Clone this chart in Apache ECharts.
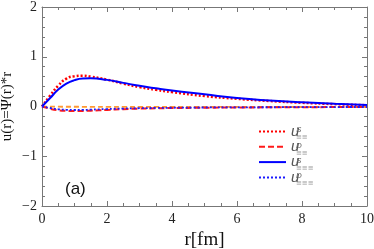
<!DOCTYPE html>
<html><head><meta charset="utf-8">
<script src="https://cdn.jsdelivr.net/npm/echarts@6/dist/echarts.min.js"></script>
<style>html,body{margin:0;padding:0;background:#fff}#c{width:374px;height:249px}</style>
</head><body><div id="c"></div>
<script>
var r      = [0, 0.25, 0.5, 0.75, 1, 1.25, 1.5, 2, 2.5, 3, 3.5, 4, 5, 6, 7, 8, 9, 10];
var uS1    = [0, 0.22, 0.42, 0.56, 0.61, 0.62, 0.60, 0.54, 0.46, 0.39, 0.335, 0.29, 0.21, 0.155, 0.11, 0.075, 0.048, 0.025];
var uD1    = [0, -0.045, -0.075, -0.088, -0.092, -0.09, -0.083, -0.068, -0.053, -0.043, -0.036, -0.031, -0.025, -0.02, -0.017, -0.014, -0.012, -0.01];
var uS2    = [0, 0.17, 0.34, 0.46, 0.53, 0.563, 0.567, 0.535, 0.475, 0.415, 0.365, 0.32, 0.245, 0.17, 0.12, 0.083, 0.055, 0.03];
var uD2    = [0, -0.03, -0.055, -0.066, -0.07, -0.069, -0.063, -0.051, -0.041, -0.034, -0.029, -0.025, -0.02, -0.017, -0.015, -0.013, -0.011, -0.01];
var uRef   = [0, -0.003, -0.004, -0.005, -0.005, -0.006, -0.006, -0.007, -0.007, -0.008, -0.008, -0.008, -0.009, -0.009, -0.01, -0.01, -0.01, -0.01];
var names  = ['uS1', 'uD1', 'uS2', 'uD2'];
var supers = ['S', 'D', 'S', 'D'];
var subs   = ['≡≡', '≡≡', '≡≡≡', '≡≡≡'];
var xTicks = [0, 2, 4, 6, 8, 10];
var yTicks = [-2, -1, 0, 1, 2];

function pairs(v){ return r.map(function(x,i){ return [x, v[i]]; }); }

var chart = echarts.init(document.getElementById('c'));
var axisCol = '#777';
var serif = '"Liberation Serif","DejaVu Serif",serif';
function xa(show, pos){
  return {type:'value', min:0, max:10, interval:2, position:pos,
    axisLine:{show:true, onZero:false, lineStyle:{color:axisCol, width:1}},
    axisTick:{show:true, inside:true, length:5, lineStyle:{color:axisCol, width:1}},
    minorTick:{show:true, splitNumber:4, length:3, lineStyle:{color:axisCol, width:1}},
    splitLine:{show:false},
    axisLabel:{show:show, color:'#222', fontFamily:serif, fontSize:14, margin:6,
      formatter:function(v){ return xTicks.indexOf(v)>=0 ? String(v) : ''; }},
    name: show ? 'r[fm]' : '', nameLocation:'middle', nameGap:19,
    nameTextStyle:{fontFamily:serif, fontSize:19, color:'#111'}};
}
function ya(show, pos){
  return {type:'value', min:-2, max:2, interval:1, position:pos,
    axisLine:{show:true, onZero:false, lineStyle:{color:axisCol, width:1}},
    axisTick:{show:true, inside:true, length:5, lineStyle:{color:axisCol, width:1}},
    minorTick:{show:true, splitNumber:5, length:3, lineStyle:{color:axisCol, width:1}},
    splitLine:{show:false},
    axisLabel:{show:show, color:'#222', fontFamily:serif, fontSize:14, margin:5,
      formatter:function(v){ return yTicks.indexOf(v)>=0 ? (v<0 ? '\u2212'+(-v) : String(v)) : ''; }},
    name: show ? 'u(r)=\u03A8(r)*r' : '', nameLocation:'middle', nameGap:27, nameMoveOverlap:false,
    nameTextStyle:{fontFamily:serif, fontSize:15, color:'#111'}};
}

var graphics = [{type:'text', left:65, top:181, style:{text:'(a)', font:'17px "Liberation Sans",Arial,sans-serif', fill:'#111'}}];
var rowY = [132, 148, 163, 178];
for (var i=0;i<4;i++){
  graphics.push({type:'text', left:296, top:rowY[i]-6, style:{text:supers[i], font:'italic 8px "Liberation Sans",sans-serif', fill:'#666'}});
  graphics.push({type:'text', left:296, top:rowY[i]+2, style:{text:subs[i], font:'7px "DejaVu Sans",sans-serif', fill:'#999'}});
}

chart.setOption({
  animation:false,
  grid:{left:42, right:7, top:7, bottom:43, containLabel:false, outerBoundsMode:'none'},
  xAxis:[xa(true,'bottom'), xa(false,'top')],
  yAxis:[ya(true,'left'), ya(false,'right')],
  legend:{orient:'vertical', left:258, top:124, padding:0, itemWidth:27, itemHeight:10, itemGap:0.3,
    data:names, formatter:function(){ return 'u'; },
    itemStyle:{color:'transparent', borderWidth:0, opacity:0},
    textStyle:{fontFamily:'"Liberation Sans",sans-serif', fontStyle:'italic', fontSize:15, color:'#555'}},
  graphic: graphics,
  series:[
    {name:'uRef', type:'line', data:pairs(uRef), showSymbol:false, symbol:'none', smooth:true,
      lineStyle:{color:'#ff9933', width:1.8, type:[5,3]}, z:1},
    {name:'uS1', type:'line', data:pairs(uS1), showSymbol:false, symbol:'none', smooth:true,
      lineStyle:{color:'#ff0000', width:2.5, type:[2,2]}, itemStyle:{color:'#ff0000'}, z:2},
    {name:'uD1', type:'line', data:pairs(uD1), showSymbol:false, symbol:'none', smooth:true,
      lineStyle:{color:'#ff1a1a', width:2, type:[6,3]}, itemStyle:{color:'#ff1a1a'}, z:3},
    {name:'uS2', type:'line', data:pairs(uS2), showSymbol:false, symbol:'none', smooth:true,
      lineStyle:{color:'#0000ff', width:2}, itemStyle:{color:'#0000ff'}, z:4},
    {name:'uD2', type:'line', data:pairs(uD2), showSymbol:false, symbol:'none', smooth:true,
      lineStyle:{color:'#1a1aff', width:1.8, type:[2,2]}, itemStyle:{color:'#1a1aff'}, z:5}
  ]
});
</script></body></html>
